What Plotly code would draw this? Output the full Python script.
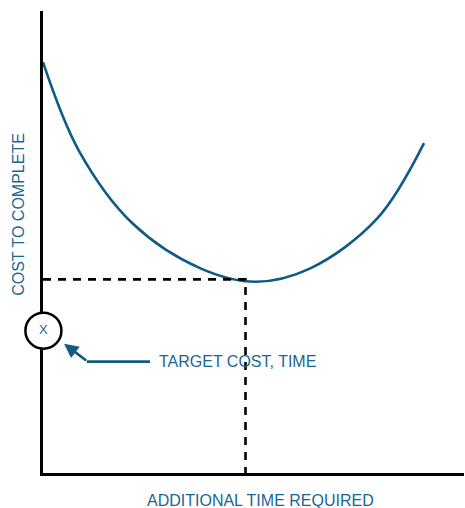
import plotly.graph_objects as go

# Curve: cost to complete vs additional time (0-100 scale)
time_vals = [0, 8.5, 21.3, 37.4, 50.5, 63.5, 79.4, 90.5]
cost_vals = [88.9, 69.8, 54.0, 44.3, 41.4, 44.3, 55.1, 71.4]

optimum_time = 48.1
optimum_cost = 41.9
target_cost = 30.8

x_title = "ADDITIONAL TIME REQUIRED"
y_title = "COST TO COMPLETE"
target_label = "TARGET COST, TIME"

CURVE = "#0e5c86"
TEXT = "#1a6694"
FONT = "Liberation Sans, Arial, sans-serif"

fig = go.Figure()
fig.add_trace(go.Scatter(x=time_vals, y=cost_vals, mode="lines",
                         line=dict(color=CURVE, width=2.6, shape="spline", smoothing=1.0),
                         hoverinfo="skip", showlegend=False))
# dashed guides
fig.add_trace(go.Scatter(x=[0, optimum_time, optimum_time], y=[optimum_cost, optimum_cost, 0],
                         mode="lines", line=dict(color="black", width=2.6, dash="8px,7px"),
                         hoverinfo="skip", showlegend=False))
# arrow shaft from label
fig.add_trace(go.Scatter(x=[25.4, 10.4], y=[24.1, 24.1], mode="lines",
                         line=dict(color=CURVE, width=2.6), hoverinfo="skip", showlegend=False))
# circle with X at target
fig.add_trace(go.Scatter(x=[0.1], y=[target_cost], mode="markers+text", text=["X"],
                         textposition="middle center",
                         textfont=dict(family=FONT, size=13, color=TEXT),
                         marker=dict(symbol="circle", size=36, color="white",
                                     line=dict(color="black", width=2.5)),
                         cliponaxis=False, hoverinfo="skip", showlegend=False))

fig.add_annotation(x=5.0, y=28.0, ax=10.6, ay=24.1, axref="x", ayref="y", xref="x", yref="y",
                   text="", showarrow=True, arrowhead=2, arrowsize=1.1, arrowwidth=2.6,
                   arrowcolor=CURVE, standoff=0)
fig.add_annotation(x=27.0, y=24.1, xref="x", yref="y", text=target_label, showarrow=False,
                   xanchor="left", yanchor="middle", font=dict(family=FONT, size=16, color=TEXT))

fig.add_annotation(x=0.517, y=-0.059, xref="paper", yref="paper", text=x_title, showarrow=False,
                   xanchor="center", yanchor="middle", font=dict(family=FONT, size=16, color=TEXT))
fig.add_annotation(x=-0.058, y=0.56, xref="paper", yref="paper", text=y_title, showarrow=False,
                   textangle=-90, xanchor="center", yanchor="middle",
                   font=dict(family=FONT, size=16, color=TEXT))

fig.update_xaxes(range=[0, 100], showline=True, linecolor="black", linewidth=3,
                 showgrid=False, zeroline=False, showticklabels=False, ticks="",
                 layer="below traces")
fig.update_yaxes(range=[0, 100], showline=True, linecolor="black", linewidth=3,
                 showgrid=False, zeroline=False, showticklabels=False, ticks="",
                 layer="below traces")
fig.update_layout(width=465, height=508, margin=dict(l=43, r=1, t=11, b=35),
                  plot_bgcolor="white", paper_bgcolor="white")

fig.write_html("out.html", config={"displayModeBar": False},
               post_script="document.body.style.margin='0';document.body.style.padding='0';")
